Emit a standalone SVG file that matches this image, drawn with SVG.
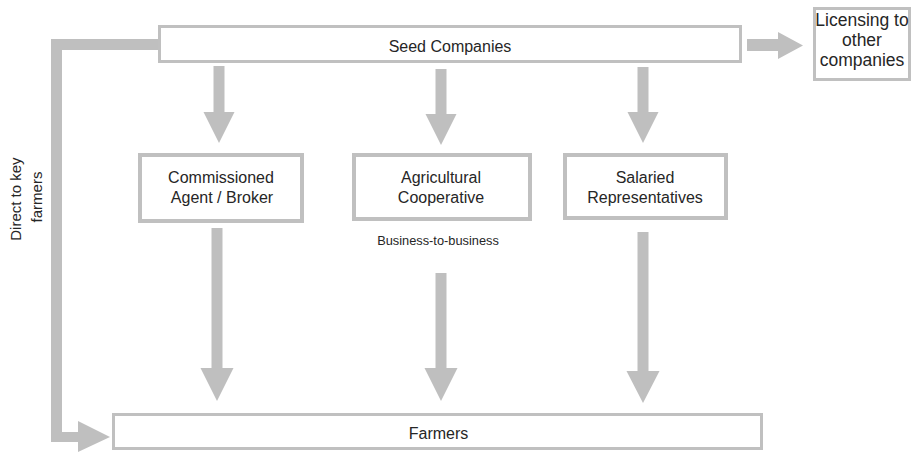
<svg xmlns="http://www.w3.org/2000/svg" width="912" height="452" viewBox="0 0 912 452">
  <style>
    .box { fill: #ffffff; stroke: #c0c0c0; stroke-width: 3; }
    .box4 { fill: #ffffff; stroke: #c0c0c0; stroke-width: 4; }
    .arrow { fill: #bfbfbf; stroke: none; }
    .lbl { font-family: "Liberation Sans", Arial, sans-serif; font-size: 16px; fill: #262626; text-anchor: middle; }
    .small { font-size: 12.8px; }
    .big { font-size: 17.5px; }
    .side { font-size: 15px; }
  </style>
  <rect width="912" height="452" fill="#ffffff"/>

  <!-- block arrows -->
  <g id="connectors">
    <!-- seed companies to the three channels -->
    <polygon class="arrow" points="213.5,66 224.5,66 224.5,112 234.5,112 219,143 203.5,112 213.5,112"/>
    <polygon class="arrow" points="435.5,69 446.5,69 446.5,114 456.5,114 441,145 425.5,114 435.5,114"/>
    <polygon class="arrow" points="637.5,67 648.5,67 648.5,112 658.5,112 643,143 627.5,112 637.5,112"/>
    <!-- channels to farmers -->
    <polygon class="arrow" points="211.5,228 222.5,228 222.5,368 233.5,368 217,401 200.5,368 211.5,368"/>
    <polygon class="arrow" points="435.5,273 446.5,273 446.5,368 457.5,368 441,401 424.5,368 435.5,368"/>
    <polygon class="arrow" points="637.5,232 648.5,232 648.5,371 659.5,371 643,403 626.5,371 637.5,371"/>
    <!-- licensing -->
    <polygon class="arrow" points="747,39 778,39 778,32 803,45.5 778,59 778,51 747,51"/>
    <!-- direct to key farmers -->
    <polygon class="arrow" points="158,39 51,39 51,442 78,442 78,452 110,437 78,421 78,432 62,432 62,50 158,50"/>
  </g>

  <g id="seed-companies">
    <rect class="box" x="159.5" y="26.5" width="581" height="35"/>
    <text class="lbl" x="450" y="52">Seed Companies</text>
  </g>

  <g id="licensing">
    <rect class="box" x="814.5" y="8.5" width="95" height="71"/>
    <text class="lbl big" x="862" y="26">Licensing to</text>
    <text class="lbl big" x="862" y="46">other</text>
    <text class="lbl big" x="862" y="66">companies</text>
  </g>

  <g id="agent-broker">
    <rect class="box4" x="140" y="155" width="162" height="66"/>
    <text class="lbl" x="221" y="183">Commissioned</text>
    <text class="lbl" x="222" y="203">Agent / Broker</text>
  </g>

  <g id="cooperative">
    <rect class="box4" x="354" y="155" width="176" height="64"/>
    <text class="lbl" x="441" y="183">Agricultural</text>
    <text class="lbl" x="441" y="203">Cooperative</text>
    <text class="lbl small" x="438" y="245">Business-to-business</text>
  </g>

  <g id="salaried">
    <rect class="box4" x="565" y="155" width="161" height="63"/>
    <text class="lbl" x="645" y="183">Salaried</text>
    <text class="lbl" x="645" y="203">Representatives</text>
  </g>

  <g id="farmers">
    <rect class="box" x="113.5" y="414.5" width="648" height="34"/>
    <text class="lbl" x="438.5" y="439">Farmers</text>
  </g>

  <g id="direct-label">
    <text class="lbl side" transform="translate(21,197) rotate(-90)">
      <tspan x="0" y="0">Direct to key</tspan>
      <tspan x="0" y="21">farmers</tspan>
    </text>
  </g>
</svg>
